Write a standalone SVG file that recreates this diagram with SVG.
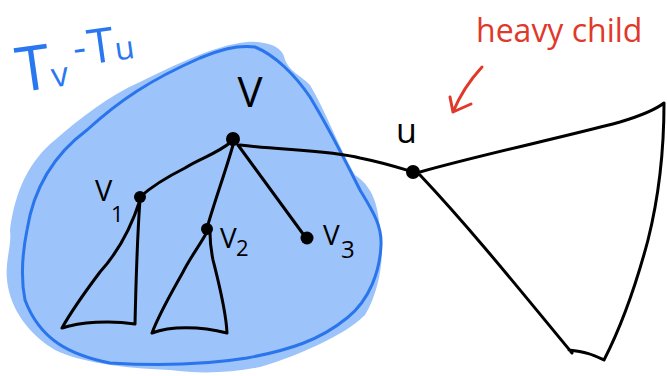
<svg xmlns="http://www.w3.org/2000/svg" width="667" height="376" viewBox="0 0 667 376">
<style>
.ink{fill:none;stroke:#000;stroke-width:3;stroke-linecap:round;stroke-linejoin:round}
.dot{fill:#000}
.lbl{font-family:"Open Sans","Noto Sans",sans-serif;fill:#000}
.blue{font-family:"Open Sans","Noto Sans",sans-serif;fill:#2a78f0}
.red{font-family:"Open Sans","Noto Sans",sans-serif;fill:#e0392a}
</style>
<rect width="667" height="376" fill="#fff"/>
<g id="region">
<path d="M 10,230 C 15,190 30,160 55,140 C 80,118 110,95 140,82 C 175,65 215,45 247,42 C 265,41 283,45 285,60 C 290,72 300,75 310,85 C 325,110 340,150 355,175 C 370,185 378,200 380,230 C 385,255 380,290 365,315 C 345,335 300,355 260,367 C 230,373 200,374 170,370 C 120,368 80,362 55,350 C 30,335 10,310 7,280 C 5,260 12,245 10,230 Z" fill="#9cc3fa"/>
<path d="M 27,230 C 35,180 60,150 87,130 C 120,100 150,80 200,58 C 220,50 235,45 255,47 C 275,55 295,75 310,97 C 330,130 345,160 360,190 C 372,210 382,225 381,245 C 380,270 370,300 347,318 C 320,340 290,350 247,358 C 210,364 160,366 110,363 C 70,355 40,340 25,300 C 20,275 23,250 27,230 Z" fill="none" stroke="#2a74ec" stroke-width="3"/>
<text class="blue" transform="rotate(-8 90 50)"><tspan x="14" y="82" font-size="62">T</tspan><tspan font-size="34" dy="0">v</tspan><tspan font-size="40" dx="8" dy="-22">-</tspan><tspan font-size="48" dx="2" dy="4">T</tspan><tspan font-size="32" dy="0">u</tspan></text>
</g>
<g id="connectors">
<path class="ink" d="M 231,142 C 215,155 200,158 185,168 C 165,178 150,188 140,197"/>
<path class="ink" d="M 233,145 C 226,170 215,200 207,228"/>
<path class="ink" d="M 238,145 L 306,238"/>
<path class="ink" d="M 240,145 C 280,150 330,150 360,158 C 385,163 400,168 413,172"/>
</g>
<g id="subtree-v1">
<path class="ink" d="M 140,200 C 132,225 120,250 100,272 C 85,292 72,310 62,328 C 80,322 110,320 135,324 C 136,280 137,240 140,200"/>
</g>
<g id="subtree-v2">
<path class="ink" d="M 207,232 C 198,248 190,258 183,272 C 172,292 160,312 152,333 C 170,326 200,326 227,333 C 226,310 218,280 213,260 C 211,250 210,240 210,233"/>
</g>
<g id="subtree-u">
<path class="ink" d="M 420,172 C 480,155 560,138 620,122 C 640,116 655,110 664,103 C 664,150 658,200 648,240 C 636,285 622,325 604,360 C 595,356 588,352 569,350 M 420,175 C 470,228 520,290 572,353"/>
</g>
<g id="node-v">
<circle class="dot" cx="233" cy="139" r="7"/>
<text class="lbl" x="250" y="107" font-size="42" text-anchor="middle">V</text>
</g>
<g id="node-v1">
<circle class="dot" cx="140" cy="197" r="6"/>
<text class="lbl" x="95" y="201" font-size="29">V</text>
<text class="lbl" x="111" y="222" font-size="22">1</text>
</g>
<g id="node-v2">
<circle class="dot" cx="207" cy="229" r="6"/>
<text class="lbl" x="220" y="248" font-size="28">V</text>
<text class="lbl" x="236" y="256" font-size="22">2</text>
</g>
<g id="node-v3">
<circle class="dot" cx="307" cy="238" r="6.5"/>
<text class="lbl" x="323" y="245" font-size="28">V</text>
<text class="lbl" x="341" y="258" font-size="24">3</text>
</g>
<g id="node-u">
<circle class="dot" cx="413" cy="172" r="7"/>
<text class="lbl" x="396" y="143" font-size="34">u</text>
</g>
<g id="annotation">
<text class="red" x="476" y="42" font-size="32">heavy child</text>
<path d="M 482,67 C 470,80 460,95 453,112 M 450,97 L 453,112 L 471,104" fill="none" stroke="#e0392a" stroke-width="3" stroke-linecap="round" stroke-linejoin="round"/>
</g>
</svg>
